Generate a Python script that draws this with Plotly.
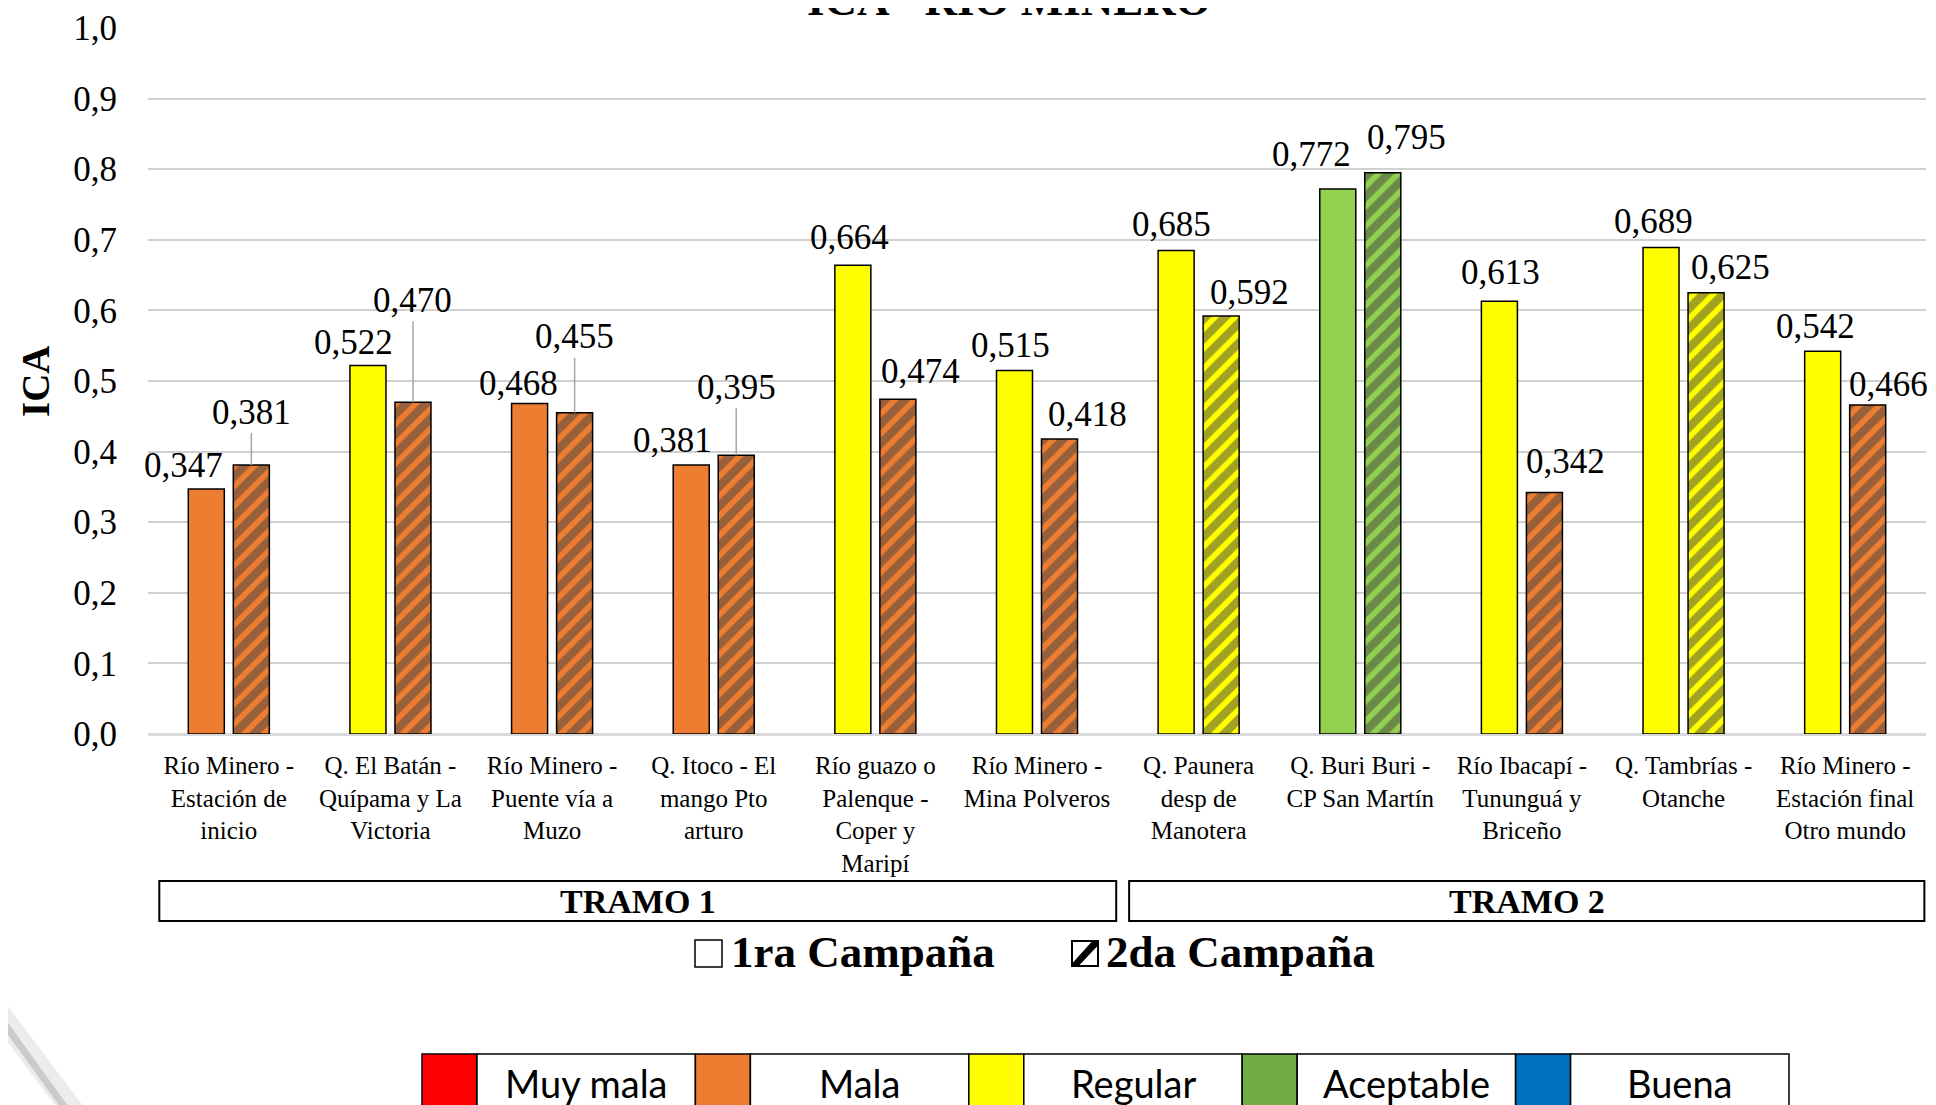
import plotly.graph_objects as go

# ---------------- data ----------------
categories = [
    "Río Minero -<br>Estación de<br>inicio",
    "Q. El Batán -<br>Quípama y La<br>Victoria",
    "Río Minero -<br>Puente vía a<br>Muzo",
    "Q. Itoco - El<br>mango Pto<br>arturo",
    "Río guazo o<br>Palenque -<br>Coper y<br>Maripí",
    "Río Minero -<br>Mina Polveros",
    "Q. Paunera<br>desp de<br>Manotera",
    "Q. Buri Buri -<br>CP San Martín",
    "Río Ibacapí -<br>Tununguá y<br>Briceño",
    "Q. Tambrías -<br>Otanche",
    "Río Minero -<br>Estación final<br>Otro mundo",
]
series_names = ["1ra Campaña", "2da Campaña"]
ica_1ra = [0.347, 0.522, 0.468, 0.381, 0.664, 0.515, 0.685, 0.772, 0.613, 0.689, 0.542]
ica_2da = [0.381, 0.470, 0.455, 0.395, 0.474, 0.418, 0.592, 0.795, 0.342, 0.625, 0.466]
class_1ra = ["Mala", "Regular", "Mala", "Mala", "Regular", "Regular", "Regular",
             "Aceptable", "Regular", "Regular", "Regular"]
class_2da = ["Mala", "Mala", "Mala", "Mala", "Mala", "Mala", "Regular",
             "Aceptable", "Mala", "Regular", "Mala"]
tramo_names = ["TRAMO 1", "TRAMO 2"]
tramo_start = [0, 6]
tramo_end = [5, 10]
quality_labels = ["Muy mala", "Mala", "Regular", "Aceptable", "Buena"]
y_ticks = [0.0, 0.1, 0.2, 0.3, 0.4, 0.5, 0.6, 0.7, 0.8, 0.9, 1.0]
title_text = "ICA - RÍO MINERO"
y_title = "ICA"

# ---------------- styles / layout ----------------
bar_colors = {"Muy mala": "#FF0000", "Mala": "#ED7D31", "Regular": "#FFFF00",
              "Aceptable": "#92D050", "Buena": "#0070C0"}
legend_colors = ["#FF0000", "#ED7D31", "#FFFF00", "#70AD47", "#0070C0"]
SERIF = "Liberation Serif, Times New Roman, serif"

OFF = 8                      # page body margin
W, H = 1928, 1097
L, T = 140, 20
PW, PH = 1778, 706
R, B = W - L - PW, H - T - PH
BARGAP, GROUPGAP = 0.443, 0.2

# label offsets (px) relative to bar centre / bar top
lbl1_dx = [-23, -14, -11, -19, -3, -4, -5, -26, 1, -8, -7]
lbl1_dy = [24, 23, 20, 25, 28, 25, 26, 34, 29, 26, 25]
lbl2_dx = [0, 0, 0, 0, 23, 28, 28, 24, 21, 24, 21]
lbl2_dy = [53, 102, 76, 68, 28, 24, 24, 35, 31, 25, 21]
lbl2_leader = [True, True, True, True, False, False, False, False, False, False, False]


def px_x(p):
    """screen x pixel -> paper x"""
    return (p - OFF - L) / PW


def px_y(p):
    """screen y pixel -> paper y"""
    return (T + PH - (p - OFF)) / PH


fig = go.Figure()
fig.add_trace(go.Bar(
    name=series_names[0], x=categories, y=ica_1ra,
    marker=dict(color=[bar_colors[c] for c in class_1ra],
                line=dict(color="black", width=1.5)),
    showlegend=False,
))
fig.add_trace(go.Bar(
    name=series_names[1], x=categories, y=ica_2da,
    marker=dict(color=[bar_colors[c] for c in class_2da],
                line=dict(color="black", width=1.5),
                pattern=dict(shape="/", fgcolor="black", fillmode="overlay",
                             size=14, solidity=0.6)),
    showlegend=False,
))

annotations = []
bar_off = PW / len(categories) * (1 - BARGAP) / 4
lab_font = dict(family=SERIF, size=35, color="black")


def fmt(v):
    return f"{v:.3f}".replace(".", ",")


for i, c in enumerate(categories):
    annotations.append(dict(x=c, y=ica_1ra[i], xref="x", yref="y", text=fmt(ica_1ra[i]),
                            showarrow=False, xshift=-bar_off + lbl1_dx[i], yshift=lbl1_dy[i],
                            xanchor="center", yanchor="middle", font=lab_font))
    if lbl2_leader[i]:
        annotations.append(dict(x=c, y=ica_2da[i], xref="x", yref="y", text=fmt(ica_2da[i]),
                                showarrow=True, arrowhead=0, arrowwidth=1.5,
                                arrowcolor="#A6A6A6", ax=0, ay=-lbl2_dy[i], standoff=0,
                                xshift=bar_off + lbl2_dx[i], font=lab_font))
    else:
        annotations.append(dict(x=c, y=ica_2da[i], xref="x", yref="y", text=fmt(ica_2da[i]),
                                showarrow=False, xshift=bar_off + lbl2_dx[i], yshift=lbl2_dy[i],
                                xanchor="center", yanchor="middle", font=lab_font))

# title (mostly cut off at top)
annotations.append(dict(x=px_x(1009), y=px_y(27), xref="paper", yref="paper",
                        text=f"<b>{title_text}</b>", showarrow=False,
                        xanchor="center", yanchor="bottom",
                        font=dict(family=SERIF, size=45, color="black")))
# y axis title
annotations.append(dict(x=px_x(35), y=0.5, xref="paper", yref="paper",
                        text=f"<b>{y_title}</b>", showarrow=False, textangle=-90,
                        xanchor="center", yanchor="middle",
                        font=dict(family=SERIF, size=39, color="black")))

shapes = []
# tramo boxes
for name, s, e in zip(tramo_names, tramo_start, tramo_end):
    x0, x1 = s - 0.43, e + 0.49
    shapes.append(dict(type="rect", xref="x", yref="paper", x0=x0, x1=x1,
                       y0=px_y(921), y1=px_y(881), line=dict(color="black", width=2),
                       fillcolor="white"))
    annotations.append(dict(x=(x0 + x1) / 2, y=px_y(901), xref="x", yref="paper",
                            text=f"<b>{name}</b>", showarrow=False,
                            xanchor="center", yanchor="middle",
                            font=dict(family=SERIF, size=34, color="black")))

# campaign legend
shapes.append(dict(type="rect", xref="paper", yref="paper", x0=px_x(695), x1=px_x(722),
                   y0=px_y(967), y1=px_y(940), line=dict(color="black", width=1.5),
                   fillcolor="white"))
shapes.append(dict(type="rect", xref="paper", yref="paper", x0=px_x(1072), x1=px_x(1098),
                   y0=px_y(966), y1=px_y(941), line=dict(color="black", width=2),
                   fillcolor="white"))
shapes.append(dict(type="path", xref="paper", yref="paper",
                   path=(f"M {px_x(1073)},{px_y(963)} L {px_x(1073)},{px_y(966)} "
                         f"L {px_x(1078)},{px_y(966)} L {px_x(1097)},{px_y(946)} "
                         f"L {px_x(1097)},{px_y(942)} L {px_x(1092)},{px_y(942)} Z"),
                   fillcolor="black", line=dict(color="black", width=1)))
annotations.append(dict(x=px_x(729), y=px_y(952), xref="paper", yref="paper",
                        text=f"<b>{series_names[0]}</b>", showarrow=False,
                        xanchor="left", yanchor="middle",
                        font=dict(family=SERIF, size=45, color="black")))
annotations.append(dict(x=px_x(1104), y=px_y(952), xref="paper", yref="paper",
                        text=f"<b>{series_names[1]}</b>", showarrow=False,
                        xanchor="left", yanchor="middle",
                        font=dict(family=SERIF, size=45, color="black")))

# quality colour legend table (bottom)
seg_w = (1789 - 422) / len(quality_labels)
sw_w = 55
for i, (lab, col) in enumerate(zip(quality_labels, legend_colors)):
    x0 = 422 + i * seg_w
    shapes.append(dict(type="rect", xref="paper", yref="paper", x0=px_x(x0), x1=px_x(x0 + sw_w),
                       y0=px_y(1140), y1=px_y(1054), fillcolor=col,
                       line=dict(color="black", width=1.5)))
    shapes.append(dict(type="rect", xref="paper", yref="paper", x0=px_x(x0 + sw_w),
                       x1=px_x(x0 + seg_w), y0=px_y(1140), y1=px_y(1054), fillcolor="white",
                       line=dict(color="black", width=1.5)))
    annotations.append(dict(x=px_x(x0 + sw_w + (seg_w - sw_w) / 2), y=px_y(1083),
                            xref="paper", yref="paper", text=lab, showarrow=False,
                            xanchor="center", yanchor="middle",
                            font=dict(family="Lato, Carlito, sans-serif", size=38, color="black")))

# page curl artifact at bottom-left
shapes.append(dict(type="line", xref="paper", yref="paper", x0=px_x(-6), y0=px_y(1006),
                   x1=px_x(74), y1=px_y(1112), line=dict(color="rgba(200,200,200,0.35)", width=22)))
shapes.append(dict(type="line", xref="paper", yref="paper", x0=px_x(-4), y0=px_y(1012),
                   x1=px_x(68), y1=px_y(1112), line=dict(color="rgba(170,170,170,0.5)", width=7)))

fig.update_layout(
    width=W, height=H,
    margin=dict(l=L, r=R, t=T, b=B, pad=0, autoexpand=False),
    paper_bgcolor="white", plot_bgcolor="white",
    barmode="group", bargap=BARGAP, bargroupgap=GROUPGAP,
    separators=",.",
    showlegend=False,
    annotations=annotations,
    shapes=shapes,
    font=dict(family=SERIF, color="black"),
)
fig.update_xaxes(type="category", range=[-0.5, len(categories) - 0.5], autorange=False,
                 showgrid=False, showline=False, ticks="",
                 automargin=False, ticklabelstandoff=14,
                 tickfont=dict(family=SERIF, size=25, color="black"), tickangle=0)
fig.update_yaxes(range=[0, 1.0], autorange=False, tickvals=y_ticks, tickformat=".1f",
                 showgrid=True, gridcolor="#D0D0D0", gridwidth=1.5,
                 zeroline=True, zerolinecolor="#D9D9D9", zerolinewidth=3,
                 showline=False, ticks="", ticklabelstandoff=30, automargin=False,
                 tickfont=dict(family=SERIF, size=35, color="black"))

fig.write_html("out.html")
